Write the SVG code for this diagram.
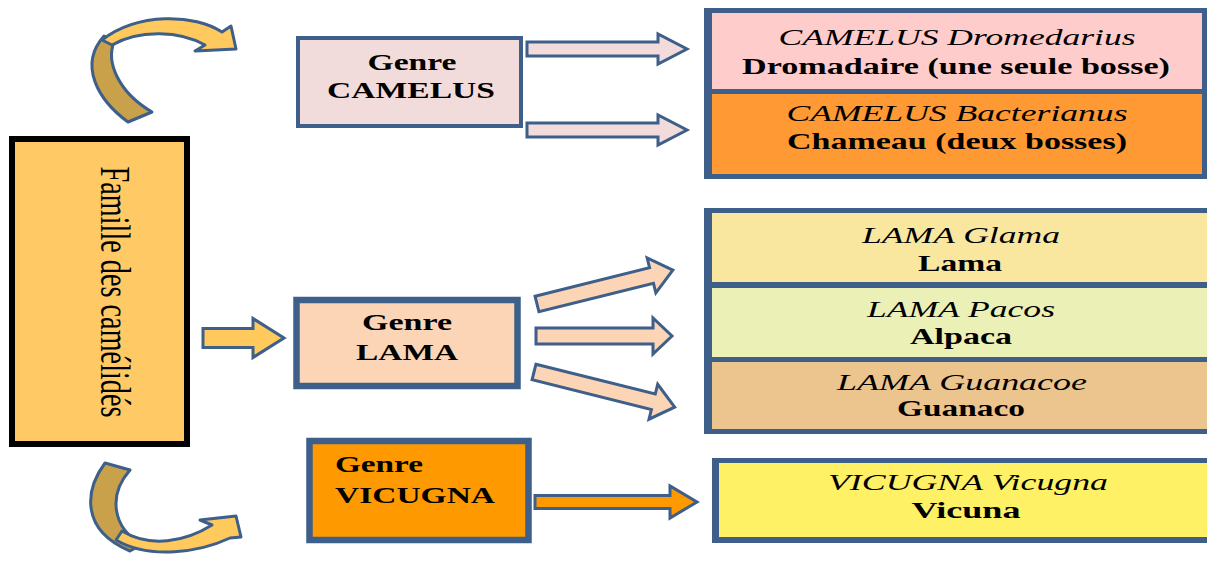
<svg xmlns="http://www.w3.org/2000/svg" width="1207" height="580" viewBox="0 0 1207 580">
<style>
text{font-family:"Liberation Serif","Times New Roman",serif;fill:#000}
.b{font-weight:bold;font-size:24px}
.s{font-size:22.5px}
.i{font-style:italic}
.bb{font-weight:bold}
.arr{stroke:#3D5F8A;stroke-width:3;stroke-linejoin:miter}
.gbox{stroke:#3D5F8A}
.blue{fill:#3D5F8A}
.dark{fill:#C9A14B;stroke:#3D5F8A;stroke-width:3;stroke-linejoin:round}
.light{fill:#FFC95D;stroke:#3D5F8A;stroke-width:3;stroke-linejoin:round}
</style>
<rect width="1207" height="580" fill="#fff"/>

<g id="curved-top">
<path class="dark" d="M128,122 C98,100 78,65 104,36 L114,42 C106,62 118,92 152,112 Z"/>
<path class="light" d="M102,40 C138,12 195,14 222,32 L231,26 L236,49 L195,51 L205,45 C180,31 140,29 112,45 Z"/>
</g>
<g id="curved-bottom">
<path class="dark" d="M105,463 C85,490 80,530 130,551 L142,544 C112,528 108,495 130,470 Z"/>
<path class="light" d="M116,540 C150,560 200,552 230,538 L241,537 L236,516 L200,520 L212,525 C185,542 150,548 122,531 Z"/>
</g>

<g id="famille">
<rect x="12" y="139" width="175" height="305" fill="#FFCA66" stroke="#000" stroke-width="6"/>
<text transform="translate(101,292) scale(1.6,1) rotate(90)" x="0" y="0" text-anchor="middle" font-size="27" textLength="251" lengthAdjust="spacingAndGlyphs">Famille des camélidés</text>
</g>

<g id="genre-camelus">
<rect class="gbox" x="298" y="38" width="223" height="88" fill="#F2DCDB" stroke-width="4"/>
<text class="b" x="412" y="70" text-anchor="middle" textLength="89" lengthAdjust="spacingAndGlyphs">Genre</text>
<text class="b" x="411" y="98" text-anchor="middle" textLength="168" lengthAdjust="spacingAndGlyphs">CAMELUS</text>
</g>

<g id="genre-lama">
<rect class="gbox" x="296.5" y="300" width="221" height="86" fill="#FBD5B5" stroke-width="6.5"/>
<text class="b" x="407" y="330" text-anchor="middle" textLength="90" lengthAdjust="spacingAndGlyphs">Genre</text>
<text class="b" x="407" y="360" text-anchor="middle" textLength="102" lengthAdjust="spacingAndGlyphs">LAMA</text>
</g>

<g id="genre-vicugna">
<rect class="gbox" x="309.5" y="441" width="219" height="99" fill="#FF9900" stroke-width="6.5"/>
<text class="b" x="335" y="472" textLength="88" lengthAdjust="spacingAndGlyphs">Genre</text>
<text class="b" x="335" y="503" textLength="160" lengthAdjust="spacingAndGlyphs">VICUGNA</text>
</g>

<g id="camelus-species">
<rect class="blue" x="704" y="8" width="503" height="171"/>
<rect x="712" y="13" width="490" height="76" fill="#FFCCCC"/>
<rect x="712" y="94" width="490" height="80" fill="#FF9933"/>
<text class="s i" x="957" y="45" text-anchor="middle" textLength="357" lengthAdjust="spacingAndGlyphs">CAMELUS Dromedarius</text>
<text class="s bb" x="956" y="74" text-anchor="middle" textLength="428" lengthAdjust="spacingAndGlyphs">Dromadaire (une seule bosse)</text>
<text class="s i" x="957" y="121" text-anchor="middle" textLength="341" lengthAdjust="spacingAndGlyphs">CAMELUS Bacterianus</text>
<text class="s bb" x="957" y="149" text-anchor="middle" textLength="340" lengthAdjust="spacingAndGlyphs">Chameau (deux bosses)</text>
</g>

<g id="lama-species">
<rect class="blue" x="704" y="208" width="503" height="226"/>
<rect x="712" y="213" width="495" height="69" fill="#F9E7A0"/>
<rect x="712" y="288" width="495" height="69" fill="#EBF0B6"/>
<rect x="712" y="362" width="495" height="67" fill="#EBC48E"/>
<text class="s i" x="961" y="243" text-anchor="middle" textLength="198" lengthAdjust="spacingAndGlyphs">LAMA Glama</text>
<text class="s bb" x="960" y="271" text-anchor="middle" textLength="84" lengthAdjust="spacingAndGlyphs">Lama</text>
<text class="s i" x="961" y="317" text-anchor="middle" textLength="188" lengthAdjust="spacingAndGlyphs">LAMA Pacos</text>
<text class="s bb" x="961" y="344" text-anchor="middle" textLength="102" lengthAdjust="spacingAndGlyphs">Alpaca</text>
<text class="s i" x="962" y="390" text-anchor="middle" textLength="250" lengthAdjust="spacingAndGlyphs">LAMA Guanacoe</text>
<text class="s bb" x="961" y="416" text-anchor="middle" textLength="128" lengthAdjust="spacingAndGlyphs">Guanaco</text>
</g>

<g id="vicugna-species">
<rect class="blue" x="712" y="458" width="495" height="85"/>
<rect x="719" y="463" width="488" height="74" fill="#FFF165"/>
<text class="s i" x="968" y="490" text-anchor="middle" textLength="280" lengthAdjust="spacingAndGlyphs">VICUGNA Vicugna</text>
<text class="s bb" x="966" y="518" text-anchor="middle" textLength="109" lengthAdjust="spacingAndGlyphs">Vicuna</text>
</g>

<g id="connectors">
<path class="arr" fill="#F2DCDB" transform="translate(527,49)" d="M0,-7 H131 V-15 L160,0 L131,15 V7 H0 Z"/>
<path class="arr" fill="#F2DCDB" transform="translate(527,130)" d="M0,-7 H131 V-15 L160,0 L131,15 V7 H0 Z"/>
<path class="arr" fill="#FFC95D" transform="translate(203,338)" d="M0,-9.5 H50 V-19.5 L81,0 L50,19.5 V9.5 H0 Z"/>
<path class="arr" fill="#FBD5B5" transform="translate(537,304) rotate(-14)" d="M0,-8 H118 V-18 L140,0 L118,18 V8 H0 Z"/>
<path class="arr" fill="#FBD5B5" transform="translate(536,336)" d="M0,-8 H117 V-18 L136,0 L117,18 V8 H0 Z"/>
<path class="arr" fill="#FBD5B5" transform="translate(534,372) rotate(14)" d="M0,-8 H123 V-18 L145,0 L123,18 V8 H0 Z"/>
<path class="arr" fill="#FF9900" transform="translate(535,502)" d="M0,-6.5 H135 V-16 L162,0 L135,16 V6.5 H0 Z"/>
</g>
</svg>
